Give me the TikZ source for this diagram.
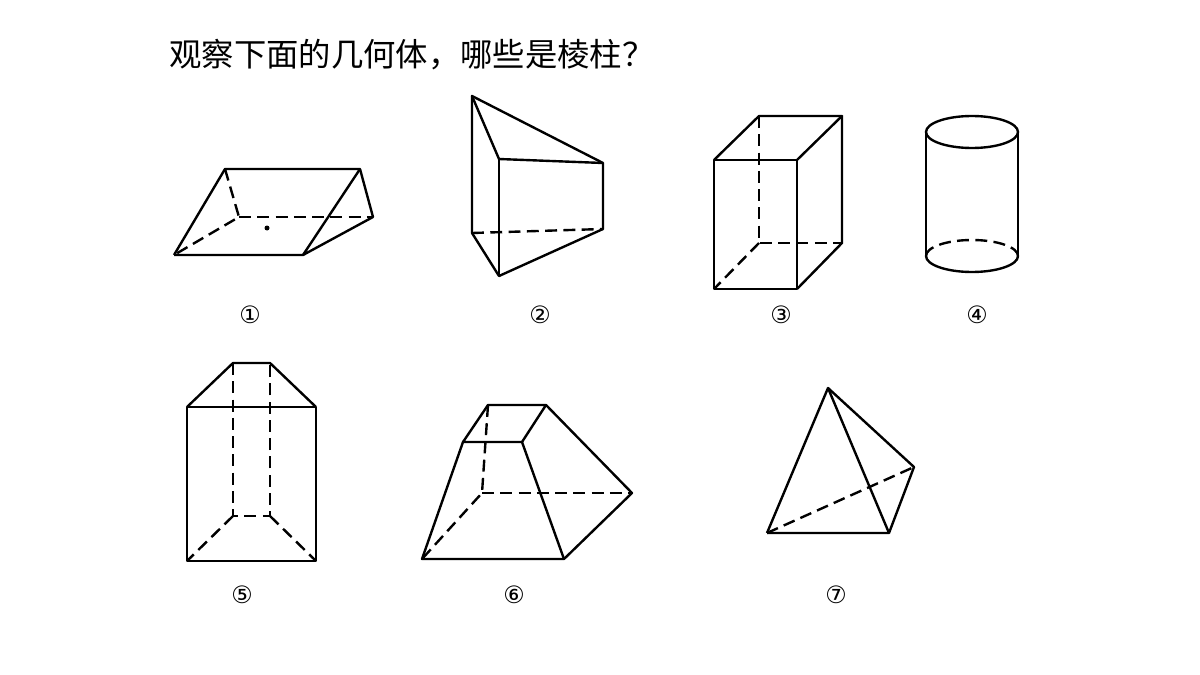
\documentclass[tikz,border=0pt]{standalone}
\usepackage{fontspec}
\newfontfamily\cjk{Noto Sans CJK SC}
\newfontfamily\symb{DejaVu Sans}
\begin{document}
\begin{tikzpicture}[x=0.5mm,y=-0.5mm,line width=3.4pt,line join=round,
  seen/.style={draw},
  hidden/.style={draw,dash pattern=on 17pt off 9pt},
  nro/.style={font=\symb\fontsize{34}{40}\selectfont}]
\useasboundingbox (0,0) rectangle (1200,675);
\node[anchor=west,font=\cjk\fontsize{46}{56}\selectfont] (title) at (166,55) {观察下面的几何体，哪些是棱柱？};
% kappale 1
\coordinate (a1) at (225,169); \coordinate (a2) at (360,169);
\coordinate (a3) at (239,217); \coordinate (a4) at (373,217);
\coordinate (a5) at (174,255); \coordinate (a6) at (303,255);
\path[seen] (a5) -- (a1) -- (a2) -- (a4) -- (a6) -- (a5);
\path[seen] (a2) -- (a6);
\path[hidden] (a1) -- (a3) -- (a5);
\path[hidden] (a3) -- (a4);
\fill (267,228) circle (2.5);
\node[nro] (n1) at (250,315) {①};
% kappale 2
\coordinate (b1) at (472,96); \coordinate (b2) at (472,233);
\coordinate (b3) at (499,159); \coordinate (b4) at (603,163);
\coordinate (b5) at (603,229); \coordinate (b6) at (499,276);
\path[seen] (b2) -- (b1) -- (b4) -- (b5) -- (b6) -- (b2);
\path[seen] (b1) -- (b3) -- (b4);
\path[seen] (b3) -- (b6);
\path[hidden] (b2) -- (b5);
\node[nro] (n2) at (540,315) {②};
% kappale 3
\coordinate (c1) at (714,160); \coordinate (c2) at (797,160);
\coordinate (c3) at (797,289); \coordinate (c4) at (714,289);
\coordinate (c5) at (759,116); \coordinate (c6) at (842,116);
\coordinate (c7) at (842,243); \coordinate (c8) at (759,243);
\path[seen] (c1) -- (c2) -- (c3) -- (c4) -- cycle;
\path[seen] (c1) -- (c5) -- (c6) -- (c2);
\path[seen] (c6) -- (c7) -- (c3);
\path[hidden] (c5) -- (c8) -- (c7);
\path[hidden] (c8) -- (c4);
\node[nro] (n3) at (781,315) {③};
% kappale 4
\path[seen] (972,132) ellipse (46 and 16);
\path[seen] (926,132) -- (926,256);
\path[seen] (1018,132) -- (1018,256);
\path[seen] (926,256) arc[start angle=180,end angle=360,x radius=46,y radius=-16];
\path[hidden] (926,256) arc[start angle=180,end angle=0,x radius=46,y radius=-16];
\node[nro] (n4) at (977,315) {④};
% kappale 5
\coordinate (d1) at (187,407); \coordinate (d2) at (316,407);
\coordinate (d3) at (316,561); \coordinate (d4) at (187,561);
\coordinate (d5) at (233,363); \coordinate (d6) at (270,363);
\coordinate (d7) at (270,516); \coordinate (d8) at (233,516);
\path[seen] (d1) -- (d2) -- (d3) -- (d4) -- cycle;
\path[seen] (d1) -- (d5) -- (d6) -- (d2);
\path[hidden] (d5) -- (d8) -- (d7) -- (d6);
\path[hidden] (d8) -- (d4);
\path[hidden] (d7) -- (d3);
\node[nro] (n5) at (242,595) {⑤};
% kappale 6
\coordinate (e1) at (488,405); \coordinate (e2) at (546,405);
\coordinate (e3) at (522,442); \coordinate (e4) at (463,442);
\coordinate (e5) at (422,559); \coordinate (e6) at (564,559);
\coordinate (e7) at (632,493); \coordinate (e8) at (482,493);
\path[seen] (e1) -- (e2) -- (e3) -- (e4) -- cycle;
\path[seen] (e4) -- (e5) -- (e6) -- (e7) -- (e2);
\path[seen] (e3) -- (e6);
\path[hidden] (e1) -- (e8) -- (e5);
\path[hidden] (e8) -- (e7);
\node[nro] (n6) at (514,595) {⑥};
% kappale 7
\coordinate (f1) at (828,388); \coordinate (f2) at (914,467);
\coordinate (f3) at (889,533); \coordinate (f4) at (767,533);
\path[seen] (f4) -- (f1) -- (f2) -- (f3) -- (f4);
\path[seen] (f1) -- (f3);
\path[hidden] (f4) -- (f2);
\node[nro] (n7) at (836,595) {⑦};
\end{tikzpicture}
\end{document}
